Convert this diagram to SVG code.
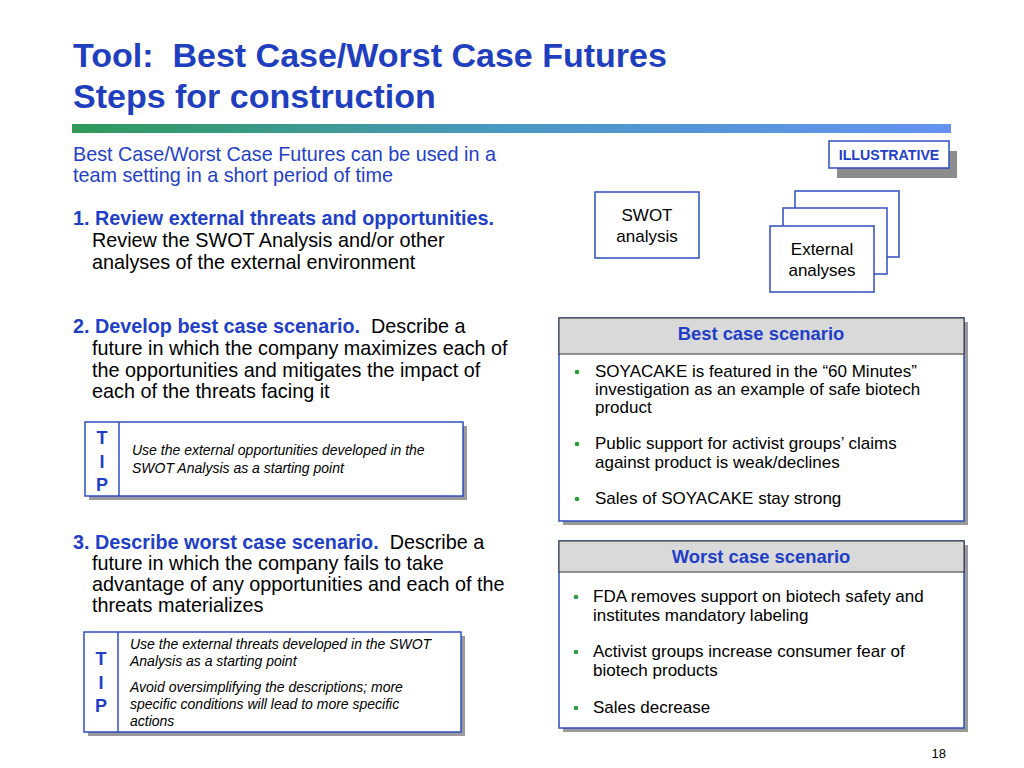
<svg xmlns="http://www.w3.org/2000/svg" width="1024" height="768" viewBox="0 0 1024 768" xml:space="preserve">
<defs>
<linearGradient id="bar" x1="0" y1="0" x2="1" y2="0">
<stop offset="0" stop-color="#2f9a5a"/>
<stop offset="0.5" stop-color="#4a98c4"/>
<stop offset="1" stop-color="#6592f2"/>
</linearGradient>
<style>
text{font-family:"Liberation Sans",Arial,sans-serif;white-space:pre}
.title{font-size:34px;font-weight:bold;fill:#1f3fbf}
.body{font-size:19.8px;fill:#000}
.body.blue{fill:#1f3fc8}
.bb{font-weight:bold;fill:#1f3fc8}
.box{fill:#fff;stroke:#2e4fc0;stroke-width:1.5}
.shadow{fill:#9a9a9a}
.tip{font-size:18px;font-weight:bold;fill:#1f3fc8}
.tipt{font-size:14px;font-style:italic;fill:#000}
.sc{font-size:17px;fill:#000}
.hdr{font-size:18.4px;font-weight:bold;fill:#1f3fc8}
.dot{fill:#2e9a3a}
.lbl{font-size:17px;fill:#000}
.ill{font-size:14.2px;font-weight:bold;fill:#1f3fc8}
</style>
</defs>
<rect width="1024" height="768" fill="#fff"/>
<g id="title">
<text class="title" x="73" y="67">Tool:  Best Case/Worst Case Futures</text>
<text class="title" x="73" y="108">Steps for construction</text>
<rect x="72" y="124" width="879" height="9" fill="url(#bar)"/>
</g>
<g id="left-text">
<text class="body blue" x="73" y="161">Best Case/Worst Case Futures can be used in a</text>
<text class="body blue" x="73" y="182">team setting in a short period of time</text>
<text class="body bb" x="73" y="225">1. Review external threats and opportunities.</text>
<text class="body" x="92" y="247">Review the SWOT Analysis and/or other</text>
<text class="body" x="92" y="269">analyses of the external environment</text>
<text class="body" x="73" y="333"><tspan class="bb">2. Develop best case scenario.</tspan>  Describe a</text>
<text class="body" x="92" y="355">future in which the company maximizes each of</text>
<text class="body" x="92" y="377">the opportunities and mitigates the impact of</text>
<text class="body" x="92" y="398">each of the threats facing it</text>
<text class="body" x="73" y="549"><tspan class="bb">3. Describe worst case scenario.</tspan>  Describe a</text>
<text class="body" x="92" y="570">future in which the company fails to take</text>
<text class="body" x="92" y="591">advantage of any opportunities and each of the</text>
<text class="body" x="92" y="612">threats materializes</text>
</g>
<g id="tip1">
<rect class="shadow" x="89" y="426" width="378" height="74"/>
<rect class="box" x="85" y="422" width="378" height="74"/>
<line x1="119" y1="422" x2="119" y2="496" stroke="#2e4fc0" stroke-width="1.5"/>
<text class="tip" x="102" y="444" text-anchor="middle">T</text>
<text class="tip" x="102" y="468" text-anchor="middle">I</text>
<text class="tip" x="102" y="491" text-anchor="middle">P</text>
<text class="tipt" x="132" y="455">Use the external opportunities developed in the</text>
<text class="tipt" x="132" y="473">SWOT Analysis as a starting point</text>
</g>
<g id="tip2">
<rect class="shadow" x="88" y="636" width="377" height="100"/>
<rect class="box" x="84" y="632" width="377" height="100"/>
<line x1="118" y1="632" x2="118" y2="732" stroke="#2e4fc0" stroke-width="1.5"/>
<text class="tip" x="101" y="665" text-anchor="middle">T</text>
<text class="tip" x="101" y="689" text-anchor="middle">I</text>
<text class="tip" x="101" y="712" text-anchor="middle">P</text>
<text class="tipt" x="130" y="649">Use the external threats developed in the SWOT</text>
<text class="tipt" x="130" y="666">Analysis as a starting point</text>
<text class="tipt" x="130" y="692">Avoid oversimplifying the descriptions; more</text>
<text class="tipt" x="130" y="709">specific conditions will lead to more specific</text>
<text class="tipt" x="130" y="726">actions</text>
</g>
<g id="illustrative">
<rect x="837" y="151" width="120" height="27" fill="#8c8c8c"/>
<rect class="box" x="829" y="141" width="120" height="27"/>
<text class="ill" x="889" y="160" text-anchor="middle">ILLUSTRATIVE</text>
</g>
<g id="swot">
<rect class="box" x="595" y="192" width="104" height="66"/>
<text class="lbl" x="647" y="221" text-anchor="middle">SWOT</text>
<text class="lbl" x="647" y="242" text-anchor="middle">analysis</text>
</g>
<g id="external">
<rect class="box" x="795" y="191" width="104" height="66"/>
<rect class="box" x="783" y="208" width="104" height="66"/>
<rect class="box" x="770" y="226" width="104" height="66"/>
<text class="lbl" x="822" y="255" text-anchor="middle">External</text>
<text class="lbl" x="822" y="276" text-anchor="middle">analyses</text>
</g>
<g id="best">
<rect class="shadow" x="563" y="322" width="405" height="203"/>
<rect class="box" x="559" y="318" width="405" height="203"/>
<rect x="559" y="318" width="405" height="36" fill="#d9d9d9" stroke="#333" stroke-width="1"/>
<text class="hdr" x="761" y="340" text-anchor="middle">Best case scenario</text>
<circle class="dot" cx="577" cy="372" r="2.3"/>
<circle class="dot" cx="577" cy="444" r="2.3"/>
<circle class="dot" cx="577" cy="499" r="2.3"/>
<text class="sc" x="595" y="377">SOYACAKE is featured in the “60 Minutes”</text>
<text class="sc" x="595" y="395">investigation as an example of safe biotech</text>
<text class="sc" x="595" y="413">product</text>
<text class="sc" x="595" y="449">Public support for activist groups’ claims</text>
<text class="sc" x="595" y="468">against product is weak/declines</text>
<text class="sc" x="595" y="504">Sales of SOYACAKE stay strong</text>
</g>
<g id="worst">
<rect class="shadow" x="563" y="545" width="405" height="187"/>
<rect class="box" x="559" y="541" width="405" height="187"/>
<rect x="559" y="541" width="405" height="31" fill="#d9d9d9" stroke="#333" stroke-width="1"/>
<text class="hdr" x="761" y="563" text-anchor="middle">Worst case scenario</text>
<circle class="dot" cx="576" cy="597" r="2.3"/>
<circle class="dot" cx="576" cy="652" r="2.3"/>
<circle class="dot" cx="576" cy="708" r="2.3"/>
<text class="sc" x="593" y="602">FDA removes support on biotech safety and</text>
<text class="sc" x="593" y="621">institutes mandatory labeling</text>
<text class="sc" x="593" y="657">Activist groups increase consumer fear of</text>
<text class="sc" x="593" y="676">biotech products</text>
<text class="sc" x="593" y="713">Sales decrease</text>
</g>
<text x="946" y="758" text-anchor="end" font-size="13">18</text>
</svg>
